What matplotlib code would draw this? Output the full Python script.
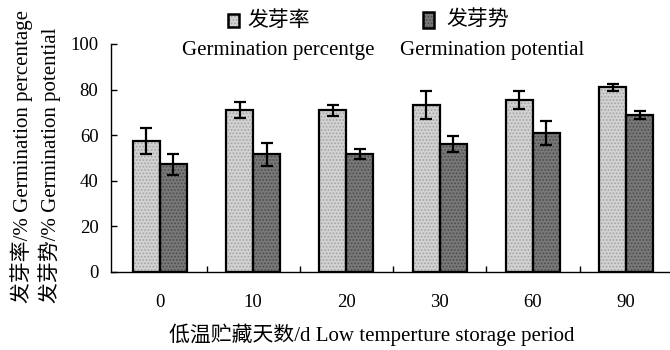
import matplotlib.pyplot as plt
from matplotlib.patches import Rectangle
import numpy as np

plt.rcParams['font.family'] = ['Liberation Serif', 'Noto Sans CJK SC']
plt.rcParams['hatch.linewidth'] = 0.8

# storage period (days) and germination results, mean and error
periods = ['0', '10', '20', '30', '60', '90']
germ_pct = [57.5, 71.0, 71.0, 73.2, 75.5, 81.0]
germ_pct_err = [5.7, 3.6, 2.4, 6.2, 3.9, 1.5]
germ_pot = [47.2, 51.6, 51.8, 56.2, 60.8, 68.8]
germ_pot_err = [4.7, 5.0, 2.2, 3.6, 5.3, 1.8]

W, H = 670, 350
FS = 15
fig = plt.figure(figsize=(W / 100, H / 100), dpi=100)
ax = fig.add_axes([111 / W, 1 - 272 / H, 1 - 111 / W, (272 - 44) / H])

x = np.arange(len(periods))
bw = 0.29
light_fill, light_dot = '#d2d2d2', '#a4a4a4'
dark_fill, dark_dot = '#787878', '#4c4c4c'

# stippled fill first, then outline and error bars on top
ax.bar(x - bw / 2, germ_pct, bw, color=light_fill, hatch='.....',
       edgecolor=light_dot, linewidth=0)
ax.bar(x + bw / 2, germ_pot, bw, color=dark_fill, hatch='.....',
       edgecolor=dark_dot, linewidth=0)
ax.bar(x - bw / 2, germ_pct, bw, fill=False, edgecolor='black', linewidth=1.6)
ax.bar(x + bw / 2, germ_pot, bw, fill=False, edgecolor='black', linewidth=1.6)
ax.errorbar(x - bw / 2, germ_pct, yerr=germ_pct_err, fmt='none',
            ecolor='black', elinewidth=1.6, capsize=4.5, capthick=1.6)
ax.errorbar(x + bw / 2, germ_pot, yerr=germ_pot_err, fmt='none',
            ecolor='black', elinewidth=1.6, capsize=4.5, capthick=1.6)

ax.set_xlim(-0.525, 5.47)
ax.set_ylim(0, 100)
for s in ['top', 'right']:
    ax.spines[s].set_visible(False)
ax.spines['left'].set_linewidth(1.0)
ax.spines['bottom'].set_linewidth(1.0)

ax.set_xticks(x)
ax.set_xticklabels(periods)
ax.set_xticks(x[:-1] + 0.5, minor=True)
ax.tick_params(axis='x', which='major', length=0, pad=16, labelsize=13.5)
ax.tick_params(axis='x', which='minor', direction='in', length=4, width=1)
ax.set_yticks(range(0, 101, 20))
ax.tick_params(axis='y', direction='in', length=4, width=1, pad=9, labelsize=13.5)

ax.set_xlabel('低温贮藏天数/d Low temperture storage period', fontsize=FS,
              labelpad=9, x=(372 - 111) / (W - 111))

# two-line y label, both lines starting at the same baseline
fig.text(22 / W, 1 - 303 / H, '发芽率/% Germination percentage', rotation=90,
         ha='center', va='bottom', fontsize=FS)
fig.text(50 / W, 1 - 303 / H, '发芽势/% Germination potential', rotation=90,
         ha='center', va='bottom', fontsize=FS)

# legend drawn by hand: swatch + Chinese name, English name underneath
def swatch(px, py, w, h, fill, dot):
    fig.add_artist(Rectangle((px / W, 1 - (py + h) / H), w / W, h / H,
                             transform=fig.transFigure, facecolor=fill,
                             hatch='.....', edgecolor=dot, linewidth=0))
    fig.add_artist(Rectangle((px / W, 1 - (py + h) / H), w / W, h / H,
                             transform=fig.transFigure, fill=False,
                             edgecolor='black', linewidth=1.8))

swatch(228, 14, 11, 13, light_fill, light_dot)
swatch(423, 12, 11, 16, dark_fill, dark_dot)
fig.text(247 / W, 1 - 21 / H, '发芽率', ha='left', va='center', fontsize=FS)
fig.text(446 / W, 1 - 21 / H, '发芽势', ha='left', va='center', fontsize=FS)
fig.text(182 / W, 1 - 51 / H, 'Germination percentge', ha='left', va='center',
         fontsize=FS)
fig.text(400 / W, 1 - 51 / H, 'Germination potential', ha='left', va='center',
         fontsize=FS)

fig.savefig('out.png', dpi=100)
